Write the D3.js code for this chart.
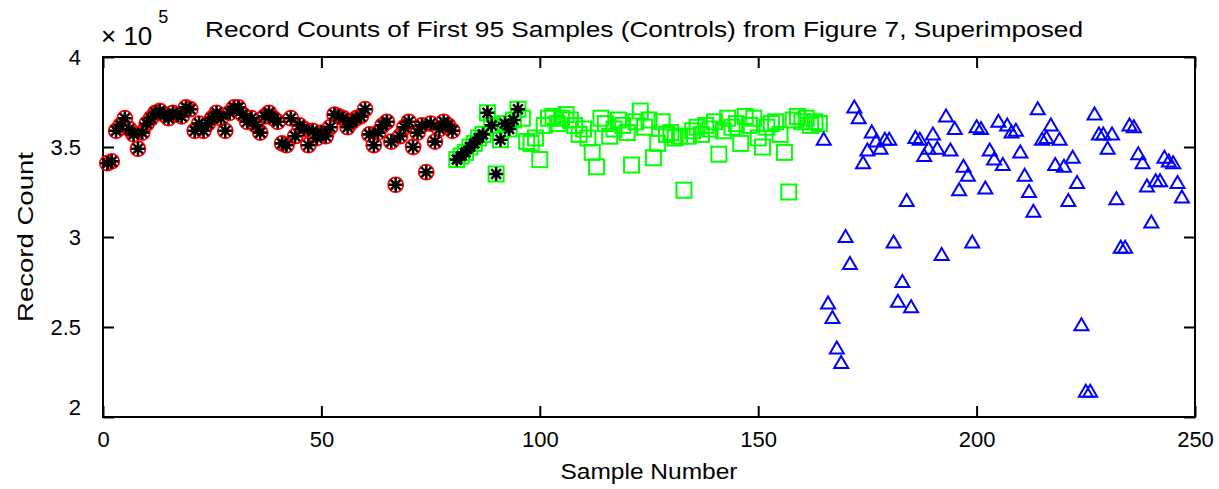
<!DOCTYPE html>
<head>
  <meta charset="utf-8">
  <script src="https://d3js.org/d3.v7.min.js"></script>
  <style>
body { margin:0; background:#fff; }
text {
	font-family: "Liberation Sans", Arial, sans-serif;
	fill: #000;
}
.axis-line {
	fill: none;
	stroke: #000;
	stroke-width: 2;
}
  </style>
</head>

<body>
  <script>
// record counts, in units of 1e5 (as on the axis)
const redCounts = [
	3.41, 3.42, 3.59, 3.62, 3.66, 3.60, 3.57, 3.49, 3.58, 3.63,
	3.66, 3.69, 3.70, 3.68, 3.66, 3.69, 3.68, 3.67, 3.72, 3.71,
	3.59, 3.63, 3.59, 3.63, 3.66, 3.69, 3.66, 3.59, 3.69, 3.72,
	3.72, 3.68, 3.64, 3.66, 3.62, 3.58, 3.67, 3.69, 3.66, 3.64,
	3.52, 3.51, 3.66, 3.56, 3.62, 3.60, 3.51, 3.59, 3.55, 3.58,
	3.56, 3.61, 3.68, 3.67, 3.66, 3.61, 3.64, 3.66, 3.67, 3.71,
	3.57, 3.51, 3.58, 3.62, 3.64, 3.53, 3.29, 3.56, 3.61, 3.64,
	3.50, 3.58, 3.62, 3.36, 3.63, 3.53, 3.60, 3.64, 3.62, 3.59
]
const greenCounts = [
	3.43, 3.45, 3.47, 3.50, 3.52, 3.55, 3.57, 3.69, 3.62, 3.35,
	3.54, 3.63, 3.60, 3.65, 3.71, 3.66, 3.53, 3.52, 3.55, 3.43,
	3.62, 3.66, 3.67, 3.63, 3.66, 3.68, 3.65, 3.62, 3.57, 3.60,
	3.55, 3.47, 3.39, 3.66, 3.63, 3.56, 3.60, 3.65, 3.62, 3.58,
	3.40, 3.64, 3.70, 3.61, 3.65, 3.44, 3.52, 3.64, 3.57, 3.58,
	3.55, 3.56, 3.26, 3.56, 3.59, 3.61, 3.57, 3.62, 3.60, 3.64,
	3.46, 3.59, 3.66, 3.61, 3.63, 3.52, 3.67, 3.62, 3.66, 3.55,
	3.50, 3.61, 3.63, 3.64, 3.57, 3.47, 3.25, 3.65, 3.67, 3.64,
	3.66, 3.62, 3.64, 3.63
]
const blueCounts = [
	3.54, 2.63, 2.55, 2.38, 2.30, 3.00, 2.85, 3.72, 3.66, 3.41,
	3.48, 3.58, 3.53, 3.49, 3.54, 3.54, 2.97, 2.64, 2.75, 3.20,
	2.61, 3.55, 3.54, 3.45, 3.49, 3.57, 3.49, 2.90, 3.67, 3.48,
	3.60, 3.26, 3.39, 3.34, 2.97, 3.61, 3.60, 3.27, 3.48, 3.43,
	3.64, 3.40, 3.62, 3.58, 3.59, 3.47, 3.34, 3.25, 3.14, 3.71,
	3.54, 3.55, 3.62, 3.40, 3.54, 3.39, 3.20, 3.44, 3.30, 2.51,
	2.14, 2.14, 3.68, 3.57, 3.57, 3.49, 3.57, 3.21, 2.94, 2.94,
	3.62, 3.61, 3.46, 3.41, 3.28, 3.08, 3.31, 3.31, 3.44, 3.42,
	3.41, 3.30, 3.22
]
const controlCount = 95
const xTicks = [0, 50, 100, 150, 200, 250]
const yTicks = [2, 2.5, 3, 3.5, 4]

const fullWidth = 1219
const fullHeight = 489
const margin = { top: 57, right: 24, bottom: 72, left: 103 }
const width = fullWidth - margin.left - margin.right
const height = fullHeight - margin.top - margin.bottom

// sample numbers run on continuously across the three groups
const toPoints = (arr, start) => arr.map((v, i) => ({ x: start + i, y: v }))
const red = toPoints(redCounts, 1)
const green = toPoints(greenCounts, 1 + redCounts.length)
const blue = toPoints(blueCounts, 1 + redCounts.length + greenCounts.length)
const controls = red.concat(green).slice(0, controlCount)

const x = d3.scaleLinear().domain([0, 250]).range([0, width])
const y = d3.scaleLinear().domain([2, 4]).range([height, 0])

const svg = d3.select('body')
	.append('svg')
	.attr('width', fullWidth)
	.attr('height', fullHeight)

const g = svg.append('g')
	.attr('transform', `translate(${margin.left},${margin.top})`)

const tickLen = 11
const fmt = d => String(d)

// axes: MATLAB style box with inward ticks on all four sides
g.append('g')
	.attr('transform', `translate(0,${height})`)
	.call(d3.axisBottom(x).tickValues(xTicks).tickFormat(fmt).tickSizeInner(-tickLen).tickSizeOuter(0).tickPadding(14))
	.call(a => a.select('.domain').remove())
	.call(a => a.selectAll('line').attr('stroke-width', 2))
	.call(a => a.selectAll('text').attr('font-size', 22).attr('font-family', null))

g.append('g')
	.call(d3.axisTop(x).tickValues(xTicks).tickSizeInner(-tickLen).tickSizeOuter(0).tickFormat(''))
	.call(a => a.select('.domain').remove())
	.call(a => a.selectAll('line').attr('stroke-width', 2))

g.append('g')
	.call(d3.axisLeft(y).tickValues(yTicks).tickFormat(fmt).tickSizeInner(-tickLen).tickSizeOuter(0).tickPadding(22))
	.call(a => a.select('.domain').remove())
	.call(a => a.selectAll('line').attr('stroke-width', 2))
	.call(a => a.selectAll('text').attr('font-size', 22).attr('font-family', null))
	// bottom label nudged up, out of the way of the x "0"
	.call(a => a.selectAll('.tick').filter(d => d === 2).select('text').attr('dy', '-0.1em'))

g.append('g')
	.attr('transform', `translate(${width},0)`)
	.call(d3.axisRight(y).tickValues(yTicks).tickSizeInner(-tickLen).tickSizeOuter(0).tickFormat(''))
	.call(a => a.select('.domain').remove())
	.call(a => a.selectAll('line').attr('stroke-width', 2))

g.append('rect')
	.attr('class', 'axis-line')
	.attr('width', width)
	.attr('height', height)

// red circles
g.selectAll('.red')
	.data(red)
	.enter().append('circle')
	.attr('class', 'red')
	.attr('cx', d => x(d.x))
	.attr('cy', d => y(d.y))
	.attr('r', 7.5)
	.attr('fill', 'none')
	.attr('stroke', '#ff0000')
	.attr('stroke-width', 1.8)

// green squares
g.selectAll('.green')
	.data(green)
	.enter().append('rect')
	.attr('class', 'green')
	.attr('x', d => x(d.x) - 7.5)
	.attr('y', d => y(d.y) - 7.5)
	.attr('width', 15)
	.attr('height', 15)
	.attr('fill', 'none')
	.attr('stroke', '#00ff00')
	.attr('stroke-width', 2)

// blue triangles
g.selectAll('.blue')
	.data(blue)
	.enter().append('path')
	.attr('class', 'blue')
	.attr('d', 'M0,-7L7,5H-7Z')
	.attr('transform', d => `translate(${x(d.x)},${y(d.y)})`)
	.attr('fill', 'none')
	.attr('stroke', '#0000ff')
	.attr('stroke-width', 2)

// black asterisks on the first 95 samples (controls)
const r = 7
g.selectAll('.ctrl')
	.data(controls)
	.enter().append('path')
	.attr('class', 'ctrl')
	.attr('d', `M${-r},0H${r}M0,${-r}V${r}M${-r * 0.7},${-r * 0.7}L${r * 0.7},${r * 0.7}M${-r * 0.7},${r * 0.7}L${r * 0.7},${-r * 0.7}`)
	.attr('transform', d => `translate(${x(d.x)},${y(d.y)})`)
	.attr('stroke', '#000')
	.attr('stroke-width', 2.6)

// texts
svg.append('text')
	.text('Record Counts of First 95 Samples (Controls) from Figure 7, Superimposed')
	.attr('x', 644)
	.attr('y', 37)
	.attr('text-anchor', 'middle')
	.attr('font-size', 22)
	.attr('textLength', 878)
	.attr('lengthAdjust', 'spacingAndGlyphs')

svg.append('text')
	.text('Sample Number')
	.attr('x', margin.left + width / 2)
	.attr('y', 479)
	.attr('text-anchor', 'middle')
	.attr('font-size', 22)
	.attr('textLength', 177)
	.attr('lengthAdjust', 'spacingAndGlyphs')

svg.append('text')
	.text('Record Count')
	.attr('transform', `translate(33,${margin.top + height / 2}) rotate(-90)`)
	.attr('text-anchor', 'middle')
	.attr('font-size', 22)
	.attr('textLength', 170)
	.attr('lengthAdjust', 'spacingAndGlyphs')

const mult = svg.append('text')
	.attr('x', 101)
	.attr('y', 45)
	.attr('font-size', 26)
mult.append('tspan').text('\u00d7 10')
mult.append('tspan').text('5').attr('font-size', 18).attr('dx', 6).attr('dy', -22)
  </script>
</body>
